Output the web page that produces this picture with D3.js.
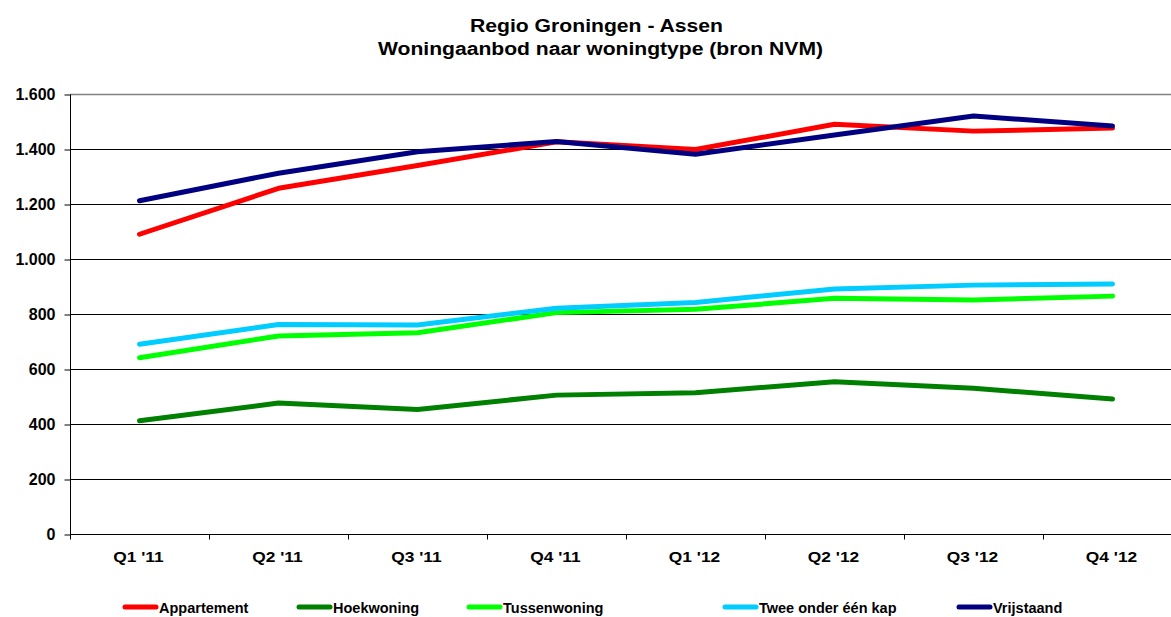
<!DOCTYPE html>
<html>
<head>
<meta charset="utf-8">
<script src="https://cdn.jsdelivr.net/npm/d3@7"></script>
<style>
	body { margin: 0; background: #fff; }
	svg { display: block; font-family: "Liberation Sans", Arial, sans-serif; font-weight: bold; }
</style>
</head>
<body>
<div id="chart"></div>
<script>
// Data
const quarters = ["Q1 '11", "Q2 '11", "Q3 '11", "Q4 '11", "Q1 '12", "Q2 '12", "Q3 '12", "Q4 '12"];
const appartement = [1090, 1257, 1340, 1426, 1398, 1490, 1465, 1476];
const hoekwoning = [412, 476, 453, 505, 514, 554, 530, 491];
const tussenwoning = [641, 720, 732, 805, 817, 857, 851, 865];
const tweeOnderEenKap = [690, 762, 760, 821, 842, 891, 905, 909];
const vrijstaand = [1212, 1312, 1390, 1427, 1381, 1451, 1520, 1484];
const yTicks = [0, 200, 400, 600, 800, 1000, 1200, 1400, 1600];

const seriesNames = ["Appartement", "Hoekwoning", "Tussenwoning", "Twee onder één kap", "Vrijstaand"];
const seriesColors = ["#ff0000", "#008000", "#00ff00", "#00ccff", "#000080"];

const series = [appartement, hoekwoning, tussenwoning, tweeOnderEenKap, vrijstaand]
	.map((values, i) => ({ name: seriesNames[i], color: seriesColors[i], values }));

const width = 1171, height = 617;
const margins = { top: 94, left: 70, bottom: 83 };
const plotRight = 1182; // plot runs slightly past the window edge

const svg = d3.select("#chart").append("svg")
	.attr("width", width)
	.attr("height", height);

// title (glyphs in the original are wider than Arial, so stretch to width)
const title = svg.append("g").style("font-size", "17.5px");
title.append("text")
	.attr("x", 470).attr("y", 32)
	.attr("textLength", 253).attr("lengthAdjust", "spacingAndGlyphs")
	.text("Regio Groningen - Assen");
title.append("text")
	.attr("x", 378).attr("y", 55)
	.attr("textLength", 445).attr("lengthAdjust", "spacingAndGlyphs")
	.text("Woningaanbod naar woningtype (bron NVM)");

// scales
const xScale = d3.scaleBand()
	.domain(quarters)
	.range([margins.left, plotRight]);

const yScale = d3.scaleLinear()
	.domain([0, 1600])
	.range([height - margins.bottom, margins.top]);

// gridlines
svg.append("g")
	.selectAll("line")
	.data(yTicks.filter(d => d > 0))
	.join("line")
	.attr("x1", margins.left)
	.attr("x2", plotRight)
	.attr("y1", d => Math.round(yScale(d)) + 0.5)
	.attr("y2", d => Math.round(yScale(d)) + 0.5)
	.attr("stroke", d => d === 1600 ? "#808080" : "#000")
	.attr("stroke-width", d => d === 1600 ? 1.5 : 1);

// y axis
const yAxis = svg.append("g")
	.attr("transform", `translate(${margins.left + 0.5},0.5)`)
	.call(d3.axisLeft(yScale).tickValues(yTicks).tickSize(6).tickPadding(9)
		.tickFormat(d => d3.format(",")(d).replace(/,/g, ".")));
yAxis.select(".domain").attr("stroke", "#000").attr("d", `M0,${yScale(1600)}V${yScale(0)}`);
yAxis.selectAll(".tick line").attr("stroke", "#000");
yAxis.selectAll("text")
	.attr("fill", "#000")
	.style("font-size", "16px")
	.style("font-family", "'Liberation Sans', Arial, sans-serif")
	.style("font-weight", "bold");

// x axis with ticks between categories
const xAxisG = svg.append("g")
	.attr("transform", `translate(0,${Math.round(yScale(0)) + 0.5})`);
xAxisG.append("line")
	.attr("x1", margins.left)
	.attr("x2", plotRight)
	.attr("stroke", "#000");
xAxisG.selectAll(".xtick")
	.data(quarters)
	.join("line")
	.attr("class", "xtick")
	.attr("x1", d => Math.round(xScale(d)) + 0.5)
	.attr("x2", d => Math.round(xScale(d)) + 0.5)
	.attr("y1", 0)
	.attr("y2", 5)
	.attr("stroke", "#000");
xAxisG.selectAll(".xlabel")
	.data(quarters)
	.join("text")
	.attr("class", "xlabel")
	.attr("transform", d => `translate(${xScale(d) + xScale.bandwidth() / 2 - 1},27) scale(1.12,1)`)
	.attr("text-anchor", "middle")
	.style("font-size", "15.5px")
	.text(d => d);

// lines
const line = d3.line()
	.x((d, i) => xScale(quarters[i]) + xScale.bandwidth() / 2)
	.y(d => yScale(d));

svg.append("g")
	.selectAll("path")
	.data(series)
	.join("path")
	.attr("fill", "none")
	.attr("stroke", d => d.color)
	.attr("stroke-width", 5)
	.attr("stroke-linejoin", "round")
	.attr("stroke-linecap", "round")
	.attr("d", d => line(d.values));

// legend
const legendX = [123, 297, 467, 723, 957];
const legend = svg.append("g").attr("transform", "translate(0,607)");
const items = legend.selectAll("g")
	.data(series)
	.join("g")
	.attr("transform", (d, i) => `translate(${legendX[i]},0)`);
items.append("line")
	.attr("x1", 2)
	.attr("x2", 33)
	.attr("stroke", d => d.color)
	.attr("stroke-width", 5)
	.attr("stroke-linecap", "round");
items.append("text")
	.attr("x", 36)
	.attr("y", 6)
	.style("font-size", "14.5px")
	.text(d => d.name);
</script>
</body>
</html>
